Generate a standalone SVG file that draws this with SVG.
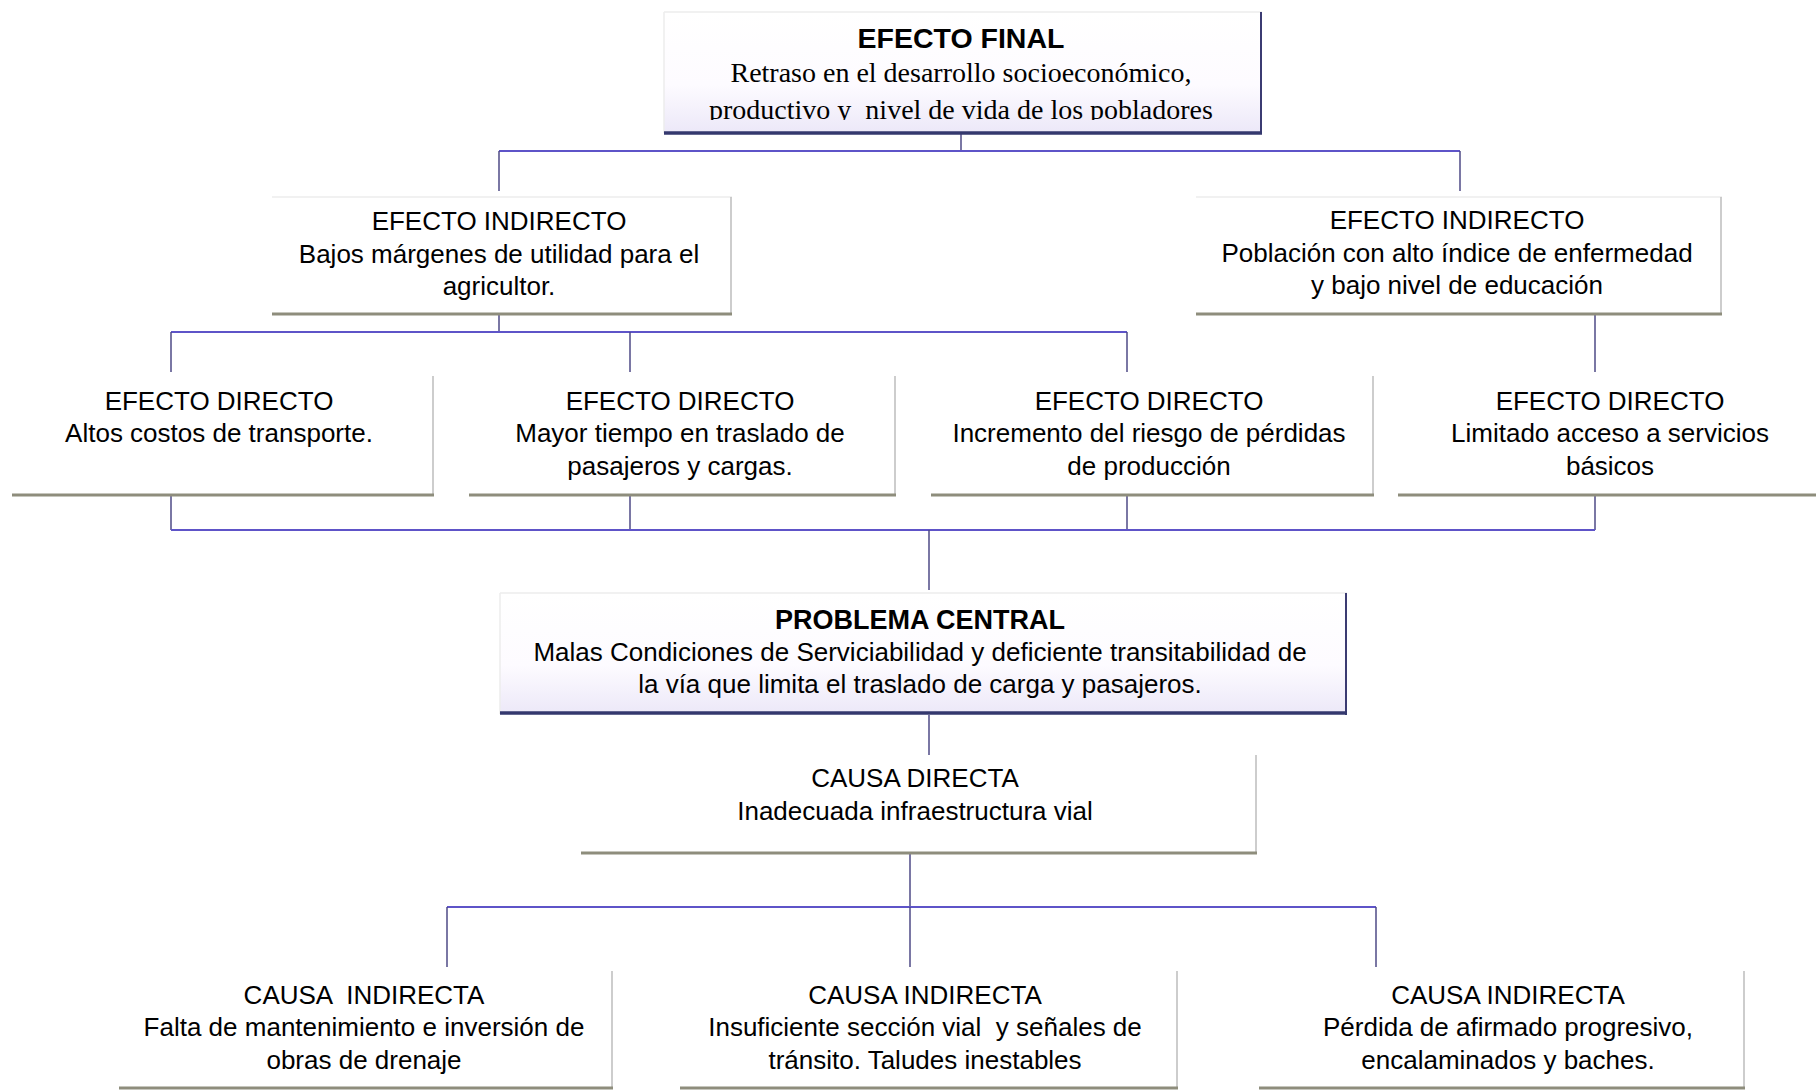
<svg xmlns="http://www.w3.org/2000/svg" width="1816" height="1091" viewBox="0 0 1816 1091">
<defs>
<linearGradient id="lav" x1="0" y1="0" x2="0" y2="1">
<stop offset="0" stop-color="#ffffff"/>
<stop offset="0.6" stop-color="#fdfbff"/>
<stop offset="1" stop-color="#ece8f8"/>
</linearGradient>
<clipPath id="efclip"><rect x="664" y="12" width="598" height="108"/></clipPath>
</defs>
<style>
.box{fill:#ffffff;stroke:none}
.top{stroke:#ececec;stroke-width:1.5}
.rs{stroke:#bdbdbd;stroke-width:1.5}
.bs{stroke:#8e8d7c;stroke-width:3}
.rn{stroke:#3b3b72;stroke-width:2}
.bn{stroke:#34386e;stroke-width:3.5}
.t{font-family:"Liberation Sans",Arial,sans-serif;font-size:26px;fill:#000;text-anchor:middle}
.b{font-weight:bold;font-size:27px}
.s{font-family:"Liberation Serif","Times New Roman",serif;font-size:28px;fill:#000;text-anchor:middle}
.c{stroke:#5e54c8;stroke-width:2;fill:none}
.v{stroke:#4e4a86;stroke-width:1.5;fill:none}
</style>
<rect width="1816" height="1091" fill="#ffffff"/>

<g id="connectors">
<line class="v" x1="961" y1="134" x2="961" y2="151"/>
<line class="c" x1="499" y1="151" x2="1460" y2="151"/>
<line class="v" x1="499" y1="151" x2="499" y2="191"/>
<line class="v" x1="1460" y1="151" x2="1460" y2="191"/>
<line class="v" x1="499" y1="315" x2="499" y2="332"/>
<line class="c" x1="171" y1="332" x2="1127" y2="332"/>
<line class="v" x1="171" y1="332" x2="171" y2="372"/>
<line class="v" x1="630" y1="332" x2="630" y2="372"/>
<line class="v" x1="1127" y1="332" x2="1127" y2="372"/>
<line class="v" x1="1595" y1="315" x2="1595" y2="372"/>
<line class="v" x1="171" y1="496" x2="171" y2="530"/>
<line class="v" x1="630" y1="496" x2="630" y2="530"/>
<line class="v" x1="1127" y1="496" x2="1127" y2="530"/>
<line class="v" x1="1595" y1="496" x2="1595" y2="530"/>
<line class="c" x1="171" y1="530" x2="1595" y2="530"/>
<line class="v" x1="929" y1="530" x2="929" y2="590"/>
<line class="v" x1="929" y1="715" x2="929" y2="755"/>
<line class="v" x1="910" y1="854" x2="910" y2="907"/>
<line class="c" x1="447" y1="907" x2="1376" y2="907"/>
<line class="v" x1="447" y1="907" x2="447" y2="967"/>
<line class="v" x1="910" y1="907" x2="910" y2="967"/>
<line class="v" x1="1376" y1="907" x2="1376" y2="967"/>
</g>

<g id="efecto-final">
<rect x="664" y="12" width="598" height="121" fill="url(#lav)"/>
<line class="top" x1="664" y1="12" x2="1262" y2="12"/>
<line class="top" x1="664" y1="12" x2="664" y2="133"/>
<line class="rn" x1="1261" y1="12" x2="1261" y2="134"/>
<line class="bn" x1="664" y1="133" x2="1262" y2="133"/>
<text class="t b" x="961" y="48" style="font-size:28.5px">EFECTO FINAL</text>
<text class="s" x="961" y="82">Retraso en el desarrollo socioeconómico,</text>
<text class="s" x="961" y="119" clip-path="url(#efclip)" xml:space="preserve">productivo y  nivel de vida de los pobladores</text>
</g>

<g id="efecto-indirecto-1">
<rect class="box" x="272" y="197" width="460" height="118"/>
<line class="top" x1="272" y1="197" x2="732" y2="197"/>
<line class="rs" x1="731" y1="197" x2="731" y2="315"/>
<line class="bs" x1="272" y1="314" x2="732" y2="314"/>
<text class="t" x="499" y="230">EFECTO INDIRECTO</text>
<text class="t" x="499" y="263">Bajos márgenes de utilidad para el</text>
<text class="t" x="499" y="295">agricultor.</text>
</g>

<g id="efecto-indirecto-2">
<rect class="box" x="1196" y="197" width="526" height="118"/>
<line class="top" x1="1196" y1="197" x2="1722" y2="197"/>
<line class="rs" x1="1721" y1="197" x2="1721" y2="315"/>
<line class="bs" x1="1196" y1="314" x2="1722" y2="314"/>
<text class="t" x="1457" y="229">EFECTO INDIRECTO</text>
<text class="t" x="1457" y="262">Población con alto índice de enfermedad</text>
<text class="t" x="1457" y="294">y bajo nivel de educación</text>
</g>

<g id="efecto-directo-1">
<rect class="box" x="12" y="376" width="422" height="120"/>
<line class="rs" x1="433" y1="376" x2="433" y2="496"/>
<line class="bs" x1="12" y1="495" x2="434" y2="495"/>
<text class="t" x="219" y="410">EFECTO DIRECTO</text>
<text class="t" x="219" y="442">Altos costos de transporte.</text>
</g>

<g id="efecto-directo-2">
<rect class="box" x="469" y="376" width="427" height="120"/>
<line class="rs" x1="895" y1="376" x2="895" y2="496"/>
<line class="bs" x1="469" y1="495" x2="896" y2="495"/>
<text class="t" x="680" y="410">EFECTO DIRECTO</text>
<text class="t" x="680" y="442">Mayor tiempo en traslado de</text>
<text class="t" x="680" y="475">pasajeros y cargas.</text>
</g>

<g id="efecto-directo-3">
<rect class="box" x="931" y="376" width="443" height="120"/>
<line class="rs" x1="1373" y1="376" x2="1373" y2="496"/>
<line class="bs" x1="931" y1="495" x2="1374" y2="495"/>
<text class="t" x="1149" y="410">EFECTO DIRECTO</text>
<text class="t" x="1149" y="442">Incremento del riesgo de pérdidas</text>
<text class="t" x="1149" y="475">de producción</text>
</g>

<g id="efecto-directo-4">
<rect class="box" x="1398" y="376" width="418" height="120"/>
<line class="bs" x1="1398" y1="495" x2="1816" y2="495"/>
<text class="t" x="1610" y="410">EFECTO DIRECTO</text>
<text class="t" x="1610" y="442">Limitado acceso a servicios</text>
<text class="t" x="1610" y="475">básicos</text>
</g>

<g id="problema-central">
<rect x="500" y="593" width="847" height="121" fill="url(#lav)"/>
<line class="top" x1="500" y1="593" x2="1347" y2="593"/>
<line class="top" x1="500" y1="593" x2="500" y2="714"/>
<line class="rn" x1="1346" y1="593" x2="1346" y2="715"/>
<line class="bn" x1="500" y1="713" x2="1347" y2="713"/>
<text class="t b" x="920" y="629">PROBLEMA CENTRAL</text>
<text class="t" x="920" y="661">Malas Condiciones de Serviciabilidad y deficiente transitabilidad de</text>
<text class="t" x="920" y="693">la vía que limita el traslado de carga y pasajeros.</text>
</g>

<g id="causa-directa">
<rect class="box" x="581" y="755" width="676" height="99"/>
<line class="rs" x1="1256" y1="755" x2="1256" y2="854"/>
<line class="bs" x1="581" y1="853" x2="1257" y2="853"/>
<text class="t" x="915" y="787">CAUSA DIRECTA</text>
<text class="t" x="915" y="820">Inadecuada infraestructura vial</text>
</g>

<g id="causa-indirecta-1">
<rect class="box" x="119" y="971" width="494" height="118"/>
<line class="rs" x1="612" y1="971" x2="612" y2="1089"/>
<line class="bs" x1="119" y1="1088" x2="613" y2="1088"/>
<text class="t" x="364" y="1004" xml:space="preserve">CAUSA  INDIRECTA</text>
<text class="t" x="364" y="1036">Falta de mantenimiento e inversión de</text>
<text class="t" x="364" y="1069">obras de drenaje</text>
</g>

<g id="causa-indirecta-2">
<rect class="box" x="680" y="971" width="498" height="118"/>
<line class="rs" x1="1177" y1="971" x2="1177" y2="1089"/>
<line class="bs" x1="680" y1="1088" x2="1178" y2="1088"/>
<text class="t" x="925" y="1004">CAUSA INDIRECTA</text>
<text class="t" x="925" y="1036" xml:space="preserve">Insuficiente sección vial  y señales de</text>
<text class="t" x="925" y="1069">tránsito. Taludes inestables</text>
</g>

<g id="causa-indirecta-3">
<rect class="box" x="1259" y="971" width="486" height="118"/>
<line class="rs" x1="1744" y1="971" x2="1744" y2="1089"/>
<line class="bs" x1="1259" y1="1088" x2="1745" y2="1088"/>
<text class="t" x="1508" y="1004">CAUSA INDIRECTA</text>
<text class="t" x="1508" y="1036">Pérdida de afirmado progresivo,</text>
<text class="t" x="1508" y="1069">encalaminados y baches.</text>
</g>
</svg>
